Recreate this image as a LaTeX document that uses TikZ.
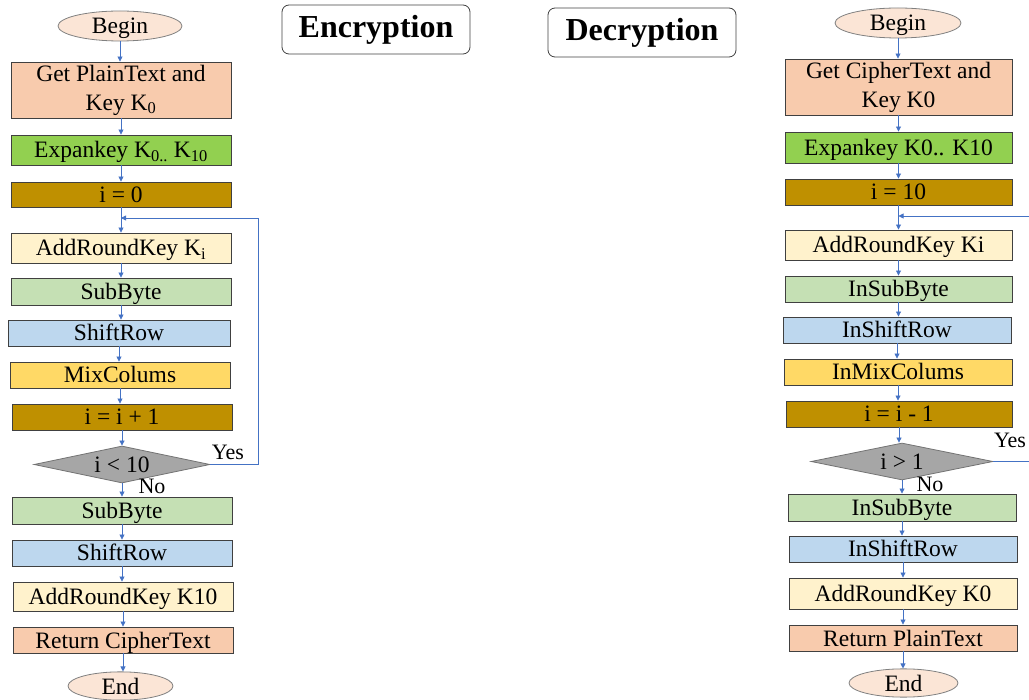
\documentclass[tikz,border=0pt]{standalone}
\usepackage{fontspec}
\setmainfont{Liberation Serif}
\usetikzlibrary{shapes.geometric,arrows.meta}
\definecolor{flow}{HTML}{4472C4}
\definecolor{edge}{HTML}{404040}
\definecolor{peach}{HTML}{FBE5D6}
\definecolor{salmon}{HTML}{F8CBAD}
\definecolor{lime}{HTML}{92D050}
\definecolor{ochre}{HTML}{BF9000}
\definecolor{cream}{HTML}{FFF2CC}
\definecolor{sage}{HTML}{C5E0B4}
\definecolor{sky}{HTML}{BDD7EE}
\definecolor{gold}{HTML}{FFD966}
\definecolor{stone}{HTML}{A6A6A6}
\tikzset{
  txt/.style={font=\fontsize{23.5}{29}\selectfont},
  boxbase/.style={txt, draw=edge, line width=0.9pt, inner sep=0pt},
  stepbox/.style={boxbase, text height=18pt, text depth=2pt},
  twoline/.style={boxbase, align=center},
  term/.style={txt, ellipse, draw=gray, line width=0.8pt, fill=peach, inner sep=0pt, text height=18pt, text depth=2pt},
  test/.style={txt, diamond, draw=gray!90!black, line width=0.8pt, fill=stone, inner sep=0pt, aspect=4.8},
  title/.style={draw=edge, line width=0.8pt, rounded corners=7pt, font=\fontsize{32}{38}\selectfont\bfseries, inner sep=0pt},
  flowline/.style={draw=flow, line width=0.8pt},
  go/.style={flowline, -{Triangle[length=5pt,width=5pt]}},
  lbl/.style={font=\fontsize{22}{26}\selectfont, inner sep=0pt},
}
\begin{document}
\begin{tikzpicture}[x=1pt,y=-1pt]
\useasboundingbox (0,0) rectangle (1029,700);
\clip (0,0) rectangle (1029,700);

% ---------- titles ----------
\node[title, minimum width=188, minimum height=49] (encT) at (376,29.5) {Encryption};
\node[title, minimum width=188, minimum height=49] (decT) at (642,32.5) {Decryption};

% ---------- encryption flow ----------
\node[term, minimum width=124, minimum height=30] (bL) at (120,26) {Begin};
\node[twoline, fill=salmon, minimum width=220, minimum height=56] (getL) at (121,90) {Get PlainText and\\Key K\textsubscript{0}};
\node[stepbox, fill=lime, minimum width=220, minimum height=30] (expL) at (121,150) {Expankey K\textsubscript{0..} K\textsubscript{10}};
\node[stepbox, fill=ochre, minimum width=220, minimum height=25] (iniL) at (121,194.5) {i = 0};
\node[stepbox, fill=cream, minimum width=220, minimum height=30] (arkL) at (121,248) {AddRoundKey K\textsubscript{i}};
\node[stepbox, fill=sage, minimum width=220, minimum height=27] (sbL) at (121,291.5) {SubByte};
\node[stepbox, fill=sky, minimum width=222, minimum height=26] (srL) at (119,333) {ShiftRow};
\node[stepbox, fill=gold, minimum width=220, minimum height=26] (mcL) at (120,375) {MixColums};
\node[stepbox, fill=ochre, minimum width=220, minimum height=26] (incL) at (122,417) {i = i + 1};
\node[test, minimum width=176, minimum height=37] (dL) at (122,464.5) {i < 10};
\node[stepbox, fill=sage, minimum width=220, minimum height=27] (sb2L) at (122,510.5) {SubByte};
\node[stepbox, fill=sky, minimum width=220, minimum height=26] (sr2L) at (122,553) {ShiftRow};
\node[stepbox, fill=cream, minimum width=220, minimum height=29] (ark2L) at (123,596.5) {AddRoundKey K10};
\node[stepbox, fill=salmon, minimum width=220, minimum height=26] (retL) at (123,640) {Return CipherText};
\node[term, minimum width=105, minimum height=28] (eL) at (120.5,686) {End};

\foreach \a/\b in {bL/getL, getL/expL, expL/iniL, iniL/arkL, arkL/sbL, sbL/srL, srL/mcL, mcL/incL, incL/dL, dL/sb2L, sb2L/sr2L, sr2L/ark2L, ark2L/retL, retL/eL}
  \draw[go] (\a.south) -- (\a.south |- \b.north);

\coordinate (backL) at (121,218);
\draw[go] (dL.east) -- (258,464.5) |- (backL);
\node[lbl] (yesL) at (228,452) {Yes};
\node[lbl] (noL) at (152,486) {No};

% ---------- decryption flow ----------
\node[term, minimum width=126, minimum height=30] (bR) at (898,23) {Begin};
\node[twoline, fill=salmon, minimum width=227, minimum height=56] (getR) at (898.5,87) {Get CipherText and\\Key K0};
\node[stepbox, fill=lime, minimum width=227, minimum height=31] (expR) at (898.5,147.5) {Expankey K0.. K10};
\node[stepbox, fill=ochre, minimum width=227, minimum height=26] (iniR) at (898.5,192) {i = 10};
\node[stepbox, fill=cream, minimum width=227, minimum height=30] (arkR) at (898.5,245) {AddRoundKey Ki};
\node[stepbox, fill=sage, minimum width=227, minimum height=26] (sbR) at (898.5,289) {InSubByte};
\node[stepbox, fill=sky, minimum width=228, minimum height=26] (srR) at (897,330) {InShiftRow};
\node[stepbox, fill=gold, minimum width=228, minimum height=26] (mcR) at (898,372) {InMixColums};
\node[stepbox, fill=ochre, minimum width=226, minimum height=26] (decR) at (899,414) {i = i - 1};
\node[test, minimum width=182, minimum height=37] (dR) at (902,461.5) {i > 1};
\node[stepbox, fill=sage, minimum width=228, minimum height=27] (sb2R) at (902,507.5) {InSubByte};
\node[stepbox, fill=sky, minimum width=228, minimum height=26] (sr2R) at (903,549) {InShiftRow};
\node[stepbox, fill=cream, minimum width=228, minimum height=31] (ark2R) at (903,593.5) {AddRoundKey K0};
\node[stepbox, fill=salmon, minimum width=228, minimum height=26] (retR) at (903,638) {Return PlainText};
\node[term, minimum width=109, minimum height=28] (eR) at (903.5,683) {End};

\foreach \a/\b in {bR/getR, getR/expR, expR/iniR, iniR/arkR, arkR/sbR, sbR/srR, srR/mcR, mcR/decR, decR/dR, dR/sb2R, sb2R/sr2R, sr2R/ark2R, ark2R/retR, retR/eR}
  \draw[go] (\a.south) -- (\a.south |- \b.north);

\coordinate (backR) at (898.5,216);
\draw[go] (dR.east) -- (1045,461.5) |- (backR);
\node[lbl] (yesR) at (1010,440) {Yes};
\node[lbl] (noR) at (930,484) {No};
\end{tikzpicture}
\end{document}
